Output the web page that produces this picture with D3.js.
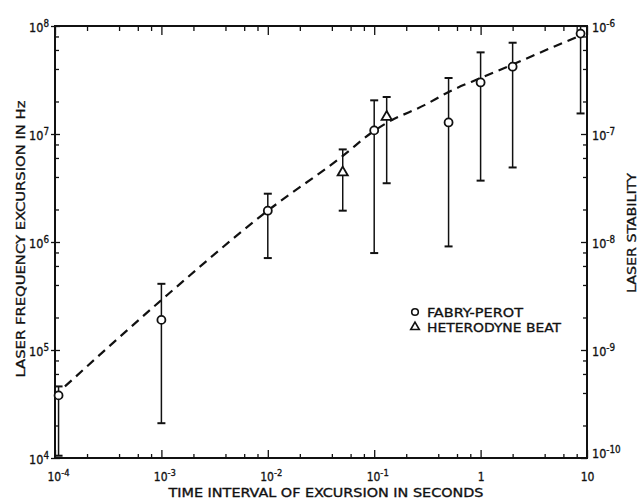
<!DOCTYPE html>
<html>
<head>
<meta charset="utf-8">
<script src="https://cdn.jsdelivr.net/npm/d3@7"></script>
<style>
  html, body { margin: 0; padding: 0; background: #fff; }
  svg text { font-family: "DejaVu Sans Condensed", "DejaVu Sans", sans-serif; fill: #111; stroke: #111; stroke-width: 0.3px; }
</style>
</head>
<body>
<svg id="chart" width="639" height="500"></svg>
<script>
// ---- data ----
const fpTime = [1.08e-4, 1e-3, 1e-2, 0.1, 0.5, 1, 2, 8.7];
const fpHz   = [3.8e4, 1.9e5, 1.95e6, 1.08e7, 1.28e7, 3.0e7, 4.2e7, 8.5e7];
const fpLow  = [1.05e4, 2.1e4, 7.1e5, 7.9e5, 9.1e5, 3.7e6, 4.9e6, 1.55e7];
const fpHigh = [4.6e4, 4.1e5, 2.8e6, 2.05e7, 3.3e7, 5.7e7, 7.0e7, 1.0e8];

const hetTime = [0.0506, 0.131];
const hetHz   = [4.4e6, 1.44e7];
const hetLow  = [1.95e6, 3.5e6];
const hetHigh = [7.2e6, 2.2e7];

const curveT  = [1.24e-4, 1e-3, 1e-2, 0.05, 0.1, 0.13, 0.3, 0.5, 1, 2, 5, 8.5];
const curveHz = [4.6e4, 2.9e5, 1.95e6, 6.2e6, 1.07e7, 1.26e7, 1.86e7, 2.45e7, 3.3e7, 4.4e7, 6.5e7, 8.1e7];

const xMajor = [1e-4, 1e-3, 1e-2, 1e-1, 1, 10];
const xMajorLabels = [["10","-4"],["10","-3"],["10","-2"],["10","-1"],["1",""],["10",""]];
const yMajor = [1e4, 1e5, 1e6, 1e7, 1e8];
const yMajorLabels = [["10","4"],["10","5"],["10","6"],["10","7"],["10","8"]];
const yRMajor = [1e-10, 1e-9, 1e-8, 1e-7, 1e-6];
const yRMajorLabels = [["10","-10"],["10","-9"],["10","-8"],["10","-7"],["10","-6"]];
const minorMult = [2, 4, 6, 8];

const legendLabels = ["FABRY-PEROT", "HETERODYNE BEAT"];
const xTitle = "TIME INTERVAL OF EXCURSION IN SECONDS";
const yTitle = "LASER FREQUENCY EXCURSION IN Hz";
const yRTitle = "LASER STABILITY";

// ---- layout ----
const L = 55, R = 587, T = 26, B = 458;
const svg = d3.select("#chart");
const ink = "#111";

const x = d3.scaleLog().domain([1e-4, 10]).range([L, R]);
const y = d3.scaleLog().domain([1e4, 1e8]).range([B, T]);
const yR = d3.scaleLog().domain([1e-10, 1e-6]).range([B, T]);

function minors(majors) {
  const out = [];
  majors.slice(0, -1).forEach(m => minorMult.forEach(k => out.push(m * k)));
  return out;
}
const xMinor = minors(xMajor);
const yMinor = minors(yMajor);
const yRMinor = minors(yRMajor);

function styleAxis(g) {
  g.select(".domain").remove();
  g.selectAll("line").attr("stroke", ink).attr("stroke-width", 1.3);
}
function setSup(sel, labels, fs) {
  sel.selectAll("text").each(function(d, i) {
    const t = d3.select(this);
    t.text(null).attr("font-size", fs);
    t.append("tspan").text(labels[i][0]);
    if (labels[i][1]) t.append("tspan").attr("dy", "-0.5em").attr("font-size", "0.78em").text(labels[i][1]);
  });
}

// bottom axis
const gB = svg.append("g").attr("transform", `translate(0,${B})`)
  .call(d3.axisBottom(x).tickValues(xMajor).tickSizeInner(-8).tickSizeOuter(0).tickPadding(0).tickFormat(""));
styleAxis(gB);
gB.selectAll("text").attr("y", 23).attr("dy", null);
setSup(gB, xMajorLabels, 12);
gB.selectAll("text").attr("dx", (d, i) => xMajorLabels[i][1] ? 3 : 0);
svg.append("g").attr("transform", `translate(0,${B})`)
  .call(d3.axisBottom(x).tickValues(xMinor).tickSizeInner(-4).tickSizeOuter(0).tickFormat(""))
  .call(styleAxis);

// top axis
svg.append("g").attr("transform", `translate(0,${T})`)
  .call(d3.axisTop(x).tickValues(xMajor).tickSizeInner(-9).tickSizeOuter(0).tickFormat(""))
  .call(styleAxis);
svg.append("g").attr("transform", `translate(0,${T})`)
  .call(d3.axisTop(x).tickValues(xMinor).tickSizeInner(-5).tickSizeOuter(0).tickFormat(""))
  .call(styleAxis);

// left axis
const gL = svg.append("g").attr("transform", `translate(${L},0)`)
  .call(d3.axisLeft(y).tickValues(yMajor).tickSizeInner(4).tickSizeOuter(0).tickPadding(3).tickFormat(""));
styleAxis(gL);
gL.selectAll("line").attr("x2", 5).attr("x1", -4);
gL.selectAll("text").attr("x", -6).attr("dy", "0.45em").attr("text-anchor", "end");
setSup(gL, yMajorLabels, 12.5);
svg.append("g").attr("transform", `translate(${L},0)`)
  .call(d3.axisLeft(y).tickValues(yMinor).tickSizeInner(-4).tickSizeOuter(0).tickFormat(""))
  .call(styleAxis);

// right axis
const gR = svg.append("g").attr("transform", `translate(${R},0)`)
  .call(d3.axisRight(yR).tickValues(yRMajor).tickSizeInner(-6).tickSizeOuter(0).tickPadding(0).tickFormat(""));
styleAxis(gR);
gR.selectAll("text").attr("x", 5).attr("dy", (d, i) => i === 0 ? "-0.05em" : "0.45em").attr("text-anchor", "start");
setSup(gR, yRMajorLabels, 12.5);
svg.append("g").attr("transform", `translate(${R},0)`)
  .call(d3.axisRight(yR).tickValues(yRMinor).tickSizeInner(-4).tickSizeOuter(0).tickFormat(""))
  .call(styleAxis);

// frame
svg.append("rect").attr("x", L).attr("y", T).attr("width", R - L).attr("height", B - T)
  .attr("fill", "none").attr("stroke", ink).attr("stroke-width", 2);

// dashed fit curve
const line = d3.line().x(d => x(d[0])).y(d => y(d[1])).curve(d3.curveMonotoneX);
svg.append("path").datum(curveT.map((t, i) => [t, curveHz[i]]))
  .attr("d", line).attr("fill", "none").attr("stroke", ink)
  .attr("stroke-width", 2.2).attr("stroke-dasharray", "9,6");

// error bars
function errorBars(ts, lo, hi) {
  const g = svg.append("g").attr("stroke", ink).attr("stroke-width", 1.5).attr("fill", "none");
  ts.forEach((t, i) => {
    const cx = x(t);
    g.append("line").attr("x1", cx).attr("x2", cx).attr("y1", y(lo[i])).attr("y2", y(hi[i]));
    g.append("line").attr("x1", cx - 4).attr("x2", cx + 4).attr("y1", y(lo[i])).attr("y2", y(lo[i])).attr("stroke-width", 2);
    g.append("line").attr("x1", cx - 4).attr("x2", cx + 4).attr("y1", y(hi[i])).attr("y2", y(hi[i])).attr("stroke-width", 2);
  });
}
errorBars(fpTime, fpLow, fpHigh);
errorBars(hetTime, hetLow, hetHigh);

// markers
svg.append("g").selectAll("circle").data(fpTime).join("circle")
  .attr("cx", d => x(d)).attr("cy", (d, i) => y(fpHz[i])).attr("r", 4)
  .attr("fill", "#fff").attr("stroke", ink).attr("stroke-width", 1.8);
const tri = d3.symbol().type(d3.symbolTriangle).size(45);
svg.append("g").selectAll("path").data(hetTime).join("path")
  .attr("d", tri).attr("transform", (d, i) => `translate(${x(d)},${y(hetHz[i])})`)
  .attr("fill", "#fff").attr("stroke", ink).attr("stroke-width", 1.8);

// legend
const lg = svg.append("g");
lg.append("circle").attr("cx", 415).attr("cy", 312).attr("r", 3.3)
  .attr("fill", "#fff").attr("stroke", ink).attr("stroke-width", 1.6);
lg.append("path").attr("d", d3.symbol().type(d3.symbolTriangle).size(32))
  .attr("transform", "translate(415,327)").attr("fill", "#fff").attr("stroke", ink).attr("stroke-width", 1.6);
lg.append("text").attr("x", 427).attr("y", 317).attr("font-size", 13)
  .attr("textLength", 96).attr("lengthAdjust", "spacingAndGlyphs").text(legendLabels[0]);
lg.append("text").attr("x", 427).attr("y", 332).attr("font-size", 13)
  .attr("textLength", 134).attr("lengthAdjust", "spacingAndGlyphs").text(legendLabels[1]);

// axis titles
svg.append("text").attr("x", 326).attr("y", 497).attr("text-anchor", "middle").attr("font-size", 12)
  .attr("textLength", 315).attr("lengthAdjust", "spacingAndGlyphs").text(xTitle);
svg.append("text").attr("transform", "translate(25,239) rotate(-90)").attr("text-anchor", "middle")
  .attr("font-size", 13).attr("textLength", 277).attr("lengthAdjust", "spacingAndGlyphs").text(yTitle);
svg.append("text").attr("transform", "translate(636,233) rotate(-90)").attr("text-anchor", "middle")
  .attr("font-size", 12.5).attr("textLength", 120).attr("lengthAdjust", "spacingAndGlyphs").text(yRTitle);
</script>
</body>
</html>
